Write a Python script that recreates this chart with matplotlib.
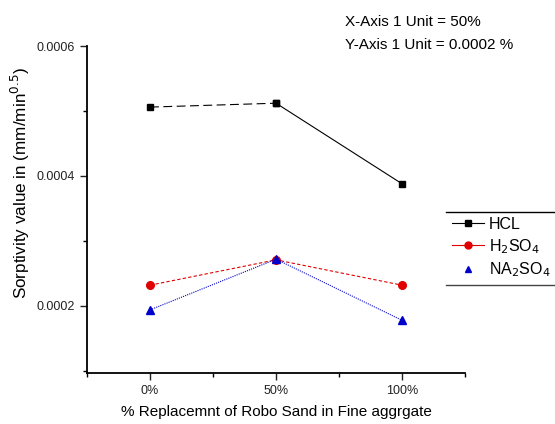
import numpy as np
import matplotlib.pyplot as plt
from matplotlib.ticker import MultipleLocator
from matplotlib.lines import Line2D

plt.rcParams['font.family'] = ['Liberation Sans', 'DejaVu Sans']

# 数据
x_labels = ['0%', '50%', '100%']
hcl = [0.000506, 0.000512, 0.000388]
h2so4 = [0.000232, 0.000271, 0.000232]
na2so4 = [0.000194, 0.000272, 0.000178]
x = np.arange(len(x_labels))

fig = plt.figure(figsize=(5.55, 4.24), dpi=100)
ax = fig.add_axes([0.1568, 0.1203, 0.6811, 0.7712])

# HCL: 前段虚线, 后段实线
ax.plot(x[:2], hcl[:2], color='black', lw=0.8, ls=(0, (8, 4)), marker='s', ms=5)
ax.plot(x[1:], hcl[1:], color='black', lw=0.8, ls='-', marker='s', ms=5)
ax.plot(x, h2so4, color='#e00000', lw=0.8, ls=(0, (3, 2)), marker='o', ms=5.5)
ax.plot(x, na2so4, color='#0000cc', lw=0.8, ls=(0, (1, 1)), marker='^', ms=5.5)

ax.set_xlim(-0.5, 2.5)
ax.set_ylim(0.0000969, 0.0006)
ax.set_xticks(x)
ax.set_xticklabels(x_labels)
ax.xaxis.set_minor_locator(MultipleLocator(0.5))
ax.set_yticks([0.0002, 0.0004, 0.0006])
ax.set_yticklabels(['0.0002', '0.0004', '0.0006'])
ax.yaxis.set_minor_locator(MultipleLocator(0.0001))
ax.tick_params(which='major', direction='out', length=5, width=1, labelsize=9, colors='#222222')
ax.tick_params(which='minor', direction='out', length=3, width=1)
ax.spines['top'].set_visible(False)
ax.spines['right'].set_visible(False)
ax.spines['left'].set_linewidth(1.3)
ax.spines['bottom'].set_linewidth(1.3)

ax.set_xlabel('% Replacemnt of Robo Sand in Fine aggrgate', fontsize=11, labelpad=6)
ax.set_ylabel('Sorptivity value in (mm/min$^{0.5}$)', fontsize=12.3)
ax.yaxis.set_label_coords(-0.145, 0.58)

fig.text(0.622, 0.948, 'X-Axis 1 Unit = 50%', fontsize=11, va='center')
fig.text(0.622, 0.895, 'Y-Axis 1 Unit = 0.0002 %', fontsize=11, va='center')

handles = [
    Line2D([], [], color='black', lw=0.8, marker='s', ms=4),
    Line2D([], [], color='#e00000', lw=0.8, marker='o', ms=5),
    Line2D([], [], color='#0000cc', lw=0, marker='^', ms=5),
]
fig.legend(handles, ['HCL', 'H$_2$SO$_4$', 'NA$_2$SO$_4$'], loc='center left',
           bbox_to_anchor=(0.795, 0.415), frameon=False, fontsize=11.5,
           handlelength=2.0, handletextpad=0.3, labelspacing=0.3,
           borderpad=0.2)
fig.add_artist(Line2D([0.803, 1.0], [1 - 212 / 424] * 2, color='black', lw=1))
fig.add_artist(Line2D([0.803, 1.0], [1 - 285 / 424] * 2, color='#444444', lw=1))

fig.savefig('out.png', dpi=100)
